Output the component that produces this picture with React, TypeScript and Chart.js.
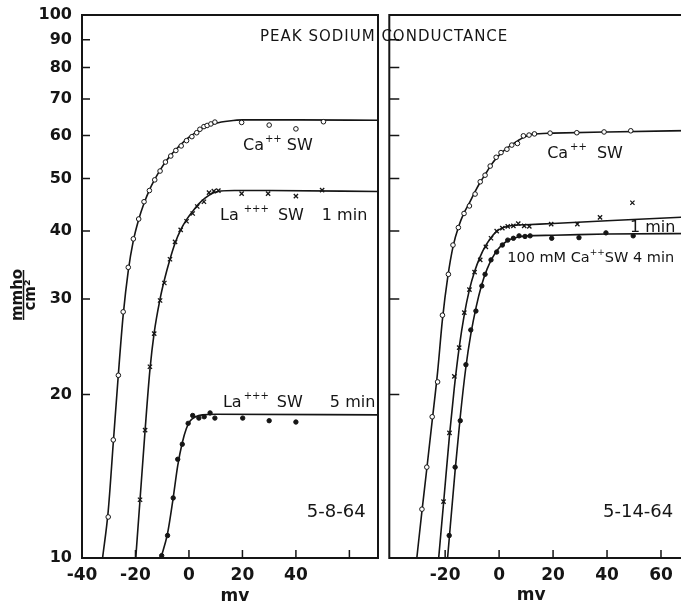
import React, { useEffect, useRef } from 'react';
import { Chart, registerables } from 'chart.js';

Chart.register(...registerables);

// ---------------- data (mV, mmho/cm²) ----------------
const yTickValues = [10, 20, 30, 40, 50, 60, 70, 80, 90, 100];
const innerYTicks = [20, 30, 40, 50, 60, 70, 80, 90];

// Left panel: 5-8-64
const leftXTickValues = [-40, -20, 0, 20, 40, 60];
const leftXTickLabels = ['-40', '-20', '0', '20', '40', ''];

const leftCaMv = [-30.2, -28.3, -26.4, -24.6, -22.7, -20.8, -18.8, -16.8, -14.8, -12.8, -10.8, -8.8, -6.8, -4.9, -2.9, -0.9, 1.1, 2.9, 4.1, 5.6, 6.8, 8.2, 9.7, 19.7, 30, 40, 50.3];
const leftCaG = [11.9, 16.5, 21.7, 28.4, 34.3, 38.7, 42.1, 45.3, 47.5, 49.7, 51.6, 53.6, 55.0, 56.3, 57.4, 58.7, 59.7, 60.7, 61.6, 62.3, 62.6, 63.0, 63.5, 63.4, 62.7, 61.7, 63.6];
const leftCaFitMv = [-32.3, -30.2, -28.3, -26.4, -24.6, -22.7, -20.8, -18.8, -16.8, -14.8, -12.8, -10.8, -8.8, -6.8, -4.8, -2.8, -0.8, 1.2, 3, 5, 7, 10, 15, 20, 40, 70.7];
const leftCaFitG = [10, 12.2, 16.3, 21.8, 28, 33.8, 38.4, 42, 45, 47.6, 49.8, 51.8, 53.6, 55.2, 56.6, 57.9, 59.1, 60.1, 61, 61.8, 62.5, 63.2, 63.8, 64.1, 64.1, 64.0];

const leftLa1Mv = [-18.3, -16.4, -14.6, -13.0, -10.8, -9.2, -7.1, -5.2, -3.1, -0.9, 1.4, 3.1, 5.6, 7.5, 9.3, 11.0, 19.7, 29.6, 40, 49.8];
const leftLa1G = [12.8, 17.2, 22.5, 25.9, 29.8, 32.1, 35.5, 38.2, 40.2, 41.7, 43.1, 44.4, 45.3, 47.1, 47.4, 47.5, 46.9, 46.9, 46.4, 47.6];
const leftLa1FitMv = [-19.9, -18.3, -16.4, -14.6, -13, -10.8, -9.2, -7.1, -5.2, -3.1, -0.9, 1.4, 3.5, 6, 9, 12, 17, 30, 70.7];
const leftLa1FitG = [10, 12.8, 17.2, 22.2, 26, 30, 32.5, 35.5, 38, 40.2, 42, 43.5, 44.8, 46, 47.0, 47.4, 47.5, 47.5, 47.3];

const leftLa5Mv = [-10.2, -8.0, -5.9, -4.2, -2.5, -0.3, 1.4, 3.7, 5.7, 7.9, 9.7, 20.1, 30.0, 40];
const leftLa5G = [10.1, 11.0, 12.9, 15.2, 16.2, 17.7, 18.3, 18.1, 18.2, 18.5, 18.1, 18.1, 17.9, 17.8];
const leftLa5FitMv = [-10.5, -8, -6, -4.2, -2.5, -1, 0.5, 2.5, 5, 10, 70.7];
const leftLa5FitG = [10, 11.1, 12.8, 14.8, 16.3, 17.3, 17.9, 18.2, 18.35, 18.4, 18.35];

// Right panel: 5-14-64
const rightXTickValues = [-20, 0, 20, 40, 60];
const rightXTickLabels = ['-20', '0', '20', '40', '60'];

const rightCaMv = [-28.6, -26.8, -24.8, -22.8, -21.0, -18.8, -17.1, -15.1, -13.0, -11.0, -8.9, -7.0, -5.2, -3.3, -1.1, 0.7, 2.9, 4.7, 6.8, 9.0, 11.1, 13.1, 18.9, 28.8, 38.9, 48.8];
const rightCaG = [12.3, 14.7, 18.2, 21.1, 28.0, 33.3, 37.7, 40.6, 43.1, 44.5, 46.8, 49.3, 50.7, 52.7, 54.7, 55.8, 56.6, 57.6, 58.0, 59.9, 60.1, 60.4, 60.6, 60.7, 60.9, 61.2];
const rightCaFitMv = [-30.5, -28.6, -26.8, -24.8, -22.8, -21, -19, -17, -15, -13, -11, -9, -7, -5, -3, -1, 1, 3, 5, 7, 9, 12, 20, 40, 75.2];
const rightCaFitG = [10, 12.2, 14.6, 17.9, 22, 27.5, 33, 37.6, 40.8, 43.2, 45.1, 47.2, 49.2, 51.0, 52.9, 54.5, 55.8, 56.9, 57.8, 58.7, 59.5, 60.3, 60.6, 60.9, 61.3];

const rightLa1Mv = [-20.6, -18.4, -16.6, -14.8, -12.9, -11.0, -9.1, -7.0, -4.9, -3.0, -0.9, 1.2, 3.2, 5.3, 7.1, 9.3, 11.2, 19.3, 29.0, 37.4, 49.4];
const rightLa1G = [12.7, 17.0, 21.6, 24.4, 28.3, 31.2, 33.6, 35.4, 37.4, 38.8, 40.0, 40.5, 40.8, 40.9, 41.3, 40.9, 40.8, 41.2, 41.2, 42.4, 45.1];
const rightLa1FitMv = [-22.4, -20.6, -18.4, -16.6, -14.8, -13, -11, -9, -7, -5, -3, -1, 1, 3, 6, 10, 20, 40, 75.2];
const rightLa1FitG = [10, 12.6, 16.8, 20.6, 24.4, 27.9, 31.2, 33.8, 35.9, 37.6, 38.9, 39.9, 40.5, 40.8, 41.0, 41.1, 41.3, 41.8, 42.6];

const rightCa4Mv = [-18.5, -16.3, -14.4, -12.3, -10.5, -8.6, -6.4, -5.2, -3.0, -0.9, 1.2, 3.2, 5.3, 7.4, 9.6, 11.5, 19.5, 29.6, 39.6, 49.7];
const rightCa4G = [11.0, 14.7, 17.9, 22.7, 26.3, 28.5, 31.7, 33.3, 35.4, 36.6, 37.7, 38.5, 38.8, 39.2, 39.1, 39.2, 38.8, 38.9, 39.7, 39.2];
const rightCa4FitMv = [-19.1, -16.3, -14.4, -12.3, -10.5, -8.5, -6.5, -4.5, -2.5, -0.5, 1.5, 4, 7, 10, 20, 40, 75.2];
const rightCa4FitG = [10, 14.5, 18.2, 22.5, 25.8, 29, 31.8, 34, 35.7, 37, 37.9, 38.6, 39, 39.2, 39.3, 39.5, 39.6];

// ---------------- styling helpers ----------------
const FONT = "'DejaVu Sans', sans-serif";
const INK = '#151515';

const pts = (xs: number[], ys: number[]) => xs.map((x, i) => ({ x, y: ys[i] }));

function markers(xs: number[], ys: number[], kind: 'open' | 'cross' | 'dot') {
  const base: any = {
    data: pts(xs, ys),
    showLine: false,
    order: 0,
    borderColor: INK,
    pointBorderColor: INK,
  };
  if (kind === 'open') {
    return { ...base, pointStyle: 'circle', pointRadius: 2.3, pointBorderWidth: 1, pointBackgroundColor: '#fff' };
  }
  if (kind === 'dot') {
    return { ...base, pointStyle: 'circle', pointRadius: 2.2, pointBorderWidth: 1, pointBackgroundColor: INK };
  }
  return { ...base, pointStyle: 'crossRot', pointRadius: 3, pointBorderWidth: 1.3, pointBackgroundColor: INK };
}

function fit(xs: number[], ys: number[]) {
  return {
    data: pts(xs, ys),
    showLine: true,
    order: 1,
    borderColor: INK,
    borderWidth: 1.6,
    pointRadius: 0,
    tension: 0.4,
    cubicInterpolationMode: 'monotone',
    fill: false,
  };
}

const panelPlugin = {
  id: 'panel',
  afterDraw(chart: any, _args: any, o: any) {
    const { ctx, chartArea: a } = chart;
    const xs = chart.scales.x;
    const ys = chart.scales.y;
    ctx.save();
    ctx.strokeStyle = INK;
    ctx.lineCap = 'square';
    ctx.lineWidth = 2;
    ctx.beginPath();
    if (o.sides.includes('left')) { ctx.moveTo(a.left, a.top); ctx.lineTo(a.left, a.bottom); }
    if (o.sides.includes('bottom')) { ctx.moveTo(a.left, a.bottom); ctx.lineTo(a.right, a.bottom); }
    if (o.sides.includes('top')) { ctx.moveTo(a.left, a.top); ctx.lineTo(a.right, a.top); }
    if (o.sides.includes('right')) { ctx.moveTo(a.right, a.top); ctx.lineTo(a.right, a.bottom); }
    ctx.stroke();

    ctx.lineWidth = 1.5;
    ctx.lineCap = 'butt';
    ctx.beginPath();
    o.yTicks.forEach((v: number) => {
      const y = ys.getPixelForValue(v);
      ctx.moveTo(a.left, y);
      ctx.lineTo(a.left + o.yTickLen, y);
    });
    o.xTicks.forEach((v: number) => {
      const x = xs.getPixelForValue(v);
      ctx.moveTo(x, a.bottom);
      ctx.lineTo(x, a.bottom - o.xTickLen);
    });
    ctx.stroke();

    ctx.fillStyle = INK;
    ctx.textAlign = 'left';
    ctx.textBaseline = 'alphabetic';
    o.notes.forEach((n: any) => {
      let x = xs.getPixelForValue(n.x);
      const y = ys.getPixelForValue(n.y);
      n.parts.forEach((p: any) => {
        const size = p.sup ? n.supSize : n.size;
        ctx.font = `${n.weight || 'normal'} ${size}px ${FONT}`;
        x += p.gap || 0;
        ctx.fillText(p.t, x, y - (p.sup ? n.supRise : 0));
        x += ctx.measureText(p.t).width;
      });
    });

    // x-axis title
    ctx.textAlign = 'center';
    ctx.font = `bold 17px ${FONT}`;
    ctx.fillText(o.xTitle.text, xs.getPixelForValue(o.xTitle.x), o.xTitle.baseline);

    // y-axis title (fraction, rotated)
    if (o.yTitle) {
      const t = o.yTitle;
      ctx.font = `bold 15px ${FONT}`;
      ctx.save();
      ctx.translate(t.numX, t.cy);
      ctx.rotate(-Math.PI / 2);
      ctx.textAlign = 'center';
      ctx.fillText(t.num, 0, 0);
      ctx.restore();
      ctx.save();
      ctx.translate(t.denX, t.cy);
      ctx.rotate(-Math.PI / 2);
      ctx.textAlign = 'center';
      ctx.fillText(t.den, 0, 0);
      ctx.restore();
      ctx.lineWidth = 1.5;
      ctx.beginPath();
      ctx.moveTo(t.barX, t.cy - t.barHalf);
      ctx.lineTo(t.barX, t.cy + t.barHalf);
      ctx.stroke();
    }
    ctx.restore();
  },
};

function makeConfig(p: any): any {
  return {
    type: 'scatter',
    data: { datasets: p.datasets },
    options: {
      responsive: false,
      animation: false,
      events: [],
      layout: { padding: p.padding },
      plugins: { legend: { display: false }, tooltip: { enabled: false }, panel: p.panel },
      scales: {
        x: {
          type: 'linear',
          min: p.xMin,
          max: p.xMax,
          position: 'bottom',
          grid: { display: false, drawTicks: false },
          border: { display: false },
          ticks: {
            autoSkip: false,
            maxRotation: 0,
            padding: 7,
            color: INK,
            font: { family: FONT, size: 17, weight: 'bold' },
            callback: (_v: any, i: number) => p.xLabels[i],
          },
          afterBuildTicks: (s: any) => { s.ticks = p.xTicks.map((v: number) => ({ value: v })); },
          afterFit: (s: any) => {
            s.height = 46;
            s.paddingLeft = 0;
            s.paddingRight = 0;
          },
        },
        y: {
          type: 'logarithmic',
          min: 10,
          max: 100,
          position: 'left',
          display: p.showY,
          grid: { display: false, drawTicks: false },
          border: { display: false },
          ticks: {
            autoSkip: false,
            padding: 10,
            color: INK,
            font: { family: FONT, size: 16, weight: 'bold' },
            callback: (v: any) => String(v),
          },
          afterBuildTicks: (s: any) => { s.ticks = yTickValues.map((v) => ({ value: v })); },
          afterFit: (s: any) => {
            s.width = p.showY ? 82 : 0;
            s.paddingTop = 0;
            s.paddingBottom = 0;
          },
        },
      },
    },
    plugins: [panelPlugin],
  };
}

export default function App() {
  const leftRef = useRef<HTMLCanvasElement>(null);
  const rightRef = useRef<HTMLCanvasElement>(null);

  useEffect(() => {
    const left = new Chart(leftRef.current as HTMLCanvasElement, makeConfig({
      xMin: -40,
      xMax: 70.7,
      xTicks: leftXTickValues,
      xLabels: leftXTickLabels,
      showY: true,
      padding: { left: 0, top: 15, right: 6, bottom: 0 },
      datasets: [
        markers(leftCaMv, leftCaG, 'open'),
        markers(leftLa1Mv, leftLa1G, 'cross'),
        markers(leftLa5Mv, leftLa5G, 'dot'),
        fit(leftCaFitMv, leftCaFitG),
        fit(leftLa1FitMv, leftLa1FitG),
        fit(leftLa5FitMv, leftLa5FitG),
      ],
      panel: {
        sides: ['left', 'bottom', 'top', 'right'],
        yTicks: innerYTicks,
        yTickLen: 8,
        xTicks: [-20, 0, 20, 40, 60],
        xTickLen: 8,
        xTitle: { text: 'mv', x: 17.2, baseline: 601 },
        yTitle: { num: 'mmho', den: 'cm²', cy: 295, numX: 22, denX: 35, barX: 23.5, barHalf: 25 },
        notes: [
          { x: 20.2, y: 56.4, size: 16, supSize: 10, supRise: 8, parts: [{ t: 'Ca' }, { t: '++', sup: true, gap: 1 }, { t: ' SW' }] },
          { x: 11.6, y: 41.9, size: 16, supSize: 10, supRise: 8, parts: [{ t: 'La' }, { t: '+++', sup: true, gap: 5 }, { t: ' SW', gap: 4 }] },
          { x: 49.7, y: 41.9, size: 16, supSize: 10, supRise: 8, parts: [{ t: '1 min' }] },
          { x: 12.7, y: 19.0, size: 16, supSize: 10, supRise: 8, parts: [{ t: 'La' }, { t: '+++', sup: true, gap: 2 }, { t: ' SW', gap: 3 }] },
          { x: 52.7, y: 19.0, size: 16, supSize: 10, supRise: 8, parts: [{ t: '5 min' }] },
          { x: 44.1, y: 11.9, size: 18, supSize: 10, supRise: 8, parts: [{ t: '5-8-64' }] },
        ],
      },
    }));

    const right = new Chart(rightRef.current as HTMLCanvasElement, makeConfig({
      xMin: -40.7,
      xMax: 75.2,
      xTicks: rightXTickValues,
      xLabels: rightXTickLabels,
      showY: false,
      padding: { left: 5, top: 15, right: 8, bottom: 0 },
      datasets: [
        markers(rightCaMv, rightCaG, 'open'),
        markers(rightLa1Mv, rightLa1G, 'cross'),
        markers(rightCa4Mv, rightCa4G, 'dot'),
        fit(rightCaFitMv, rightCaFitG),
        fit(rightLa1FitMv, rightLa1FitG),
        fit(rightCa4FitMv, rightCa4FitG),
      ],
      panel: {
        sides: ['left', 'bottom', 'top'],
        yTicks: innerYTicks,
        yTickLen: 10,
        xTicks: rightXTickValues,
        xTickLen: 8,
        xTitle: { text: 'mv', x: 11.9, baseline: 600 },
        yTitle: null,
        notes: [
          { x: 17.8, y: 54.5, size: 16, supSize: 10, supRise: 8, parts: [{ t: 'Ca' }, { t: '++', sup: true, gap: 2 }, { t: ' SW', gap: 5 }] },
          { x: 48.5, y: 39.8, size: 16, supSize: 10, supRise: 8, parts: [{ t: '1 min' }] },
          { x: 3.0, y: 35.1, size: 14.5, supSize: 9, supRise: 7, parts: [{ t: '100 mM Ca' }, { t: '++', sup: true }, { t: 'SW 4 min' }] },
          { x: 38.5, y: 11.9, size: 18, supSize: 10, supRise: 8, parts: [{ t: '5-14-64' }] },
        ],
      },
    }));

    return () => {
      left.destroy();
      right.destroy();
    };
  }, []);

  return (
    <div style={{ position: 'absolute', left: 0, top: 0, width: 681, height: 604, overflow: 'hidden', background: '#fff' }}>
      <canvas ref={leftRef} width={384} height={604} style={{ position: 'absolute', left: 0, top: 0 }} />
      <canvas ref={rightRef} width={326} height={604} style={{ position: 'absolute', left: 384, top: 0 }} />
      <div
        style={{
          position: 'absolute',
          left: 260,
          top: 29,
          font: `15px ${FONT}`,
          letterSpacing: '1px',
          lineHeight: '15px',
          whiteSpace: 'nowrap',
          color: INK,
        }}
      >
        PEAK SODIUM CONDUCTANCE
      </div>
    </div>
  );
}
